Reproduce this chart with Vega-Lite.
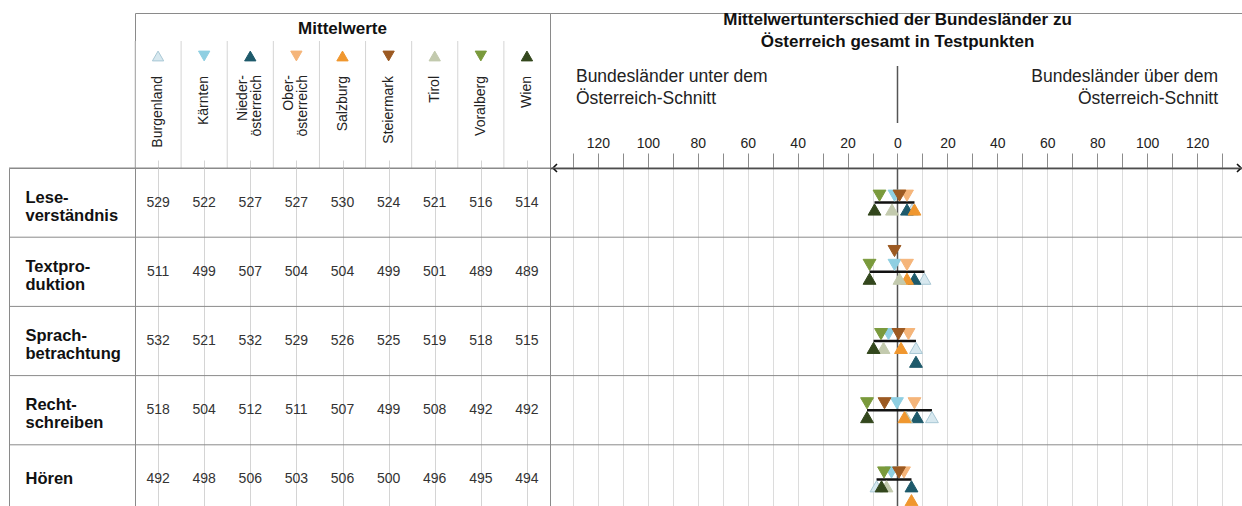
{
  "$schema": "https://vega.github.io/schema/vega-lite/v6.json",
  "padding": {"left": 8, "top": 10, "right": 1, "bottom": 0},
  "spacing": 0,
  "bounds": "flush",
  "columns": 3,
  "config": {
    "font": "Liberation Sans",
    "text": {"font": "Liberation Sans"},
    "axis": {"labelFont": "Liberation Sans"}
  },
  "datasets": {
    "kompetenzen": [
      {"Kompetenz": "Lese-\nverständnis"},
      {"Kompetenz": "Textpro-\nduktion"},
      {"Kompetenz": "Sprach-\nbetrachtung"},
      {"Kompetenz": "Recht-\nschreiben"},
      {"Kompetenz": "Hören"}
    ],
    "laender": [
      {"Bundesland": "Burgenland"},
      {"Bundesland": "Kärnten"},
      {"Bundesland": "Nieder-\nösterreich"},
      {"Bundesland": "Ober-\nösterreich"},
      {"Bundesland": "Salzburg"},
      {"Bundesland": "Steiermark"},
      {"Bundesland": "Tirol"},
      {"Bundesland": "Voralberg"},
      {"Bundesland": "Wien"}
    ],
    "werte": [
      {"Kompetenz": "Lese-\nverständnis", "Bundesland": "Burgenland", "Mittelwert": 529, "Differenz": 5.8, "Ebene": "unten 1"},
      {"Kompetenz": "Lese-\nverständnis", "Bundesland": "Kärnten", "Mittelwert": 522, "Differenz": -1.2, "Ebene": "oben 1"},
      {"Kompetenz": "Lese-\nverständnis", "Bundesland": "Nieder-\nösterreich", "Mittelwert": 527, "Differenz": 3.8, "Ebene": "unten 1"},
      {"Kompetenz": "Lese-\nverständnis", "Bundesland": "Ober-\nösterreich", "Mittelwert": 527, "Differenz": 3.8, "Ebene": "oben 1"},
      {"Kompetenz": "Lese-\nverständnis", "Bundesland": "Salzburg", "Mittelwert": 530, "Differenz": 6.8, "Ebene": "unten 1"},
      {"Kompetenz": "Lese-\nverständnis", "Bundesland": "Steiermark", "Mittelwert": 524, "Differenz": 0.8, "Ebene": "oben 1"},
      {"Kompetenz": "Lese-\nverständnis", "Bundesland": "Tirol", "Mittelwert": 521, "Differenz": -2.2, "Ebene": "unten 1"},
      {"Kompetenz": "Lese-\nverständnis", "Bundesland": "Voralberg", "Mittelwert": 516, "Differenz": -7.2, "Ebene": "oben 1"},
      {"Kompetenz": "Lese-\nverständnis", "Bundesland": "Wien", "Mittelwert": 514, "Differenz": -9.2, "Ebene": "unten 1"},

      {"Kompetenz": "Textpro-\nduktion", "Bundesland": "Burgenland", "Mittelwert": 511, "Differenz": 10.8, "Ebene": "unten 1"},
      {"Kompetenz": "Textpro-\nduktion", "Bundesland": "Kärnten", "Mittelwert": 499, "Differenz": -1.2, "Ebene": "oben 1"},
      {"Kompetenz": "Textpro-\nduktion", "Bundesland": "Nieder-\nösterreich", "Mittelwert": 507, "Differenz": 6.8, "Ebene": "unten 1"},
      {"Kompetenz": "Textpro-\nduktion", "Bundesland": "Ober-\nösterreich", "Mittelwert": 504, "Differenz": 3.8, "Ebene": "oben 1"},
      {"Kompetenz": "Textpro-\nduktion", "Bundesland": "Salzburg", "Mittelwert": 504, "Differenz": 3.8, "Ebene": "unten 1"},
      {"Kompetenz": "Textpro-\nduktion", "Bundesland": "Steiermark", "Mittelwert": 499, "Differenz": -1.2, "Ebene": "oben 2"},
      {"Kompetenz": "Textpro-\nduktion", "Bundesland": "Tirol", "Mittelwert": 501, "Differenz": 0.8, "Ebene": "unten 1"},
      {"Kompetenz": "Textpro-\nduktion", "Bundesland": "Voralberg", "Mittelwert": 489, "Differenz": -11.2, "Ebene": "oben 1"},
      {"Kompetenz": "Textpro-\nduktion", "Bundesland": "Wien", "Mittelwert": 489, "Differenz": -11.2, "Ebene": "unten 1"},

      {"Kompetenz": "Sprach-\nbetrachtung", "Bundesland": "Burgenland", "Mittelwert": 532, "Differenz": 7.4, "Ebene": "unten 1"},
      {"Kompetenz": "Sprach-\nbetrachtung", "Bundesland": "Kärnten", "Mittelwert": 521, "Differenz": -3.6, "Ebene": "oben 1"},
      {"Kompetenz": "Sprach-\nbetrachtung", "Bundesland": "Nieder-\nösterreich", "Mittelwert": 532, "Differenz": 7.4, "Ebene": "unten 2"},
      {"Kompetenz": "Sprach-\nbetrachtung", "Bundesland": "Ober-\nösterreich", "Mittelwert": 529, "Differenz": 4.4, "Ebene": "oben 1"},
      {"Kompetenz": "Sprach-\nbetrachtung", "Bundesland": "Salzburg", "Mittelwert": 526, "Differenz": 1.4, "Ebene": "unten 1"},
      {"Kompetenz": "Sprach-\nbetrachtung", "Bundesland": "Steiermark", "Mittelwert": 525, "Differenz": 0.4, "Ebene": "oben 1"},
      {"Kompetenz": "Sprach-\nbetrachtung", "Bundesland": "Tirol", "Mittelwert": 519, "Differenz": -5.6, "Ebene": "unten 1"},
      {"Kompetenz": "Sprach-\nbetrachtung", "Bundesland": "Voralberg", "Mittelwert": 518, "Differenz": -6.6, "Ebene": "oben 1"},
      {"Kompetenz": "Sprach-\nbetrachtung", "Bundesland": "Wien", "Mittelwert": 515, "Differenz": -9.6, "Ebene": "unten 1"},

      {"Kompetenz": "Recht-\nschreiben", "Bundesland": "Burgenland", "Mittelwert": 518, "Differenz": 13.8, "Ebene": "unten 1"},
      {"Kompetenz": "Recht-\nschreiben", "Bundesland": "Kärnten", "Mittelwert": 504, "Differenz": -0.2, "Ebene": "oben 1"},
      {"Kompetenz": "Recht-\nschreiben", "Bundesland": "Nieder-\nösterreich", "Mittelwert": 512, "Differenz": 7.8, "Ebene": "unten 1"},
      {"Kompetenz": "Recht-\nschreiben", "Bundesland": "Ober-\nösterreich", "Mittelwert": 511, "Differenz": 6.8, "Ebene": "oben 1"},
      {"Kompetenz": "Recht-\nschreiben", "Bundesland": "Tirol", "Mittelwert": 508, "Differenz": 3.4, "Ebene": "unten 1"},
      {"Kompetenz": "Recht-\nschreiben", "Bundesland": "Salzburg", "Mittelwert": 507, "Differenz": 2.8, "Ebene": "unten 1"},
      {"Kompetenz": "Recht-\nschreiben", "Bundesland": "Steiermark", "Mittelwert": 499, "Differenz": -5.2, "Ebene": "oben 1"},
      {"Kompetenz": "Recht-\nschreiben", "Bundesland": "Voralberg", "Mittelwert": 492, "Differenz": -12.2, "Ebene": "oben 1"},
      {"Kompetenz": "Recht-\nschreiben", "Bundesland": "Wien", "Mittelwert": 492, "Differenz": -12.2, "Ebene": "unten 1"},

      {"Kompetenz": "Hören", "Bundesland": "Burgenland", "Mittelwert": 492, "Differenz": -8.4, "Ebene": "unten 1"},
      {"Kompetenz": "Hören", "Bundesland": "Kärnten", "Mittelwert": 498, "Differenz": -2.4, "Ebene": "oben 1"},
      {"Kompetenz": "Hören", "Bundesland": "Nieder-\nösterreich", "Mittelwert": 506, "Differenz": 5.6, "Ebene": "unten 1"},
      {"Kompetenz": "Hören", "Bundesland": "Ober-\nösterreich", "Mittelwert": 503, "Differenz": 2.6, "Ebene": "oben 1"},
      {"Kompetenz": "Hören", "Bundesland": "Salzburg", "Mittelwert": 506, "Differenz": 5.6, "Ebene": "unten 2"},
      {"Kompetenz": "Hören", "Bundesland": "Steiermark", "Mittelwert": 500, "Differenz": 0.6, "Ebene": "oben 1"},
      {"Kompetenz": "Hören", "Bundesland": "Tirol", "Mittelwert": 496, "Differenz": -4.4, "Ebene": "unten 1"},
      {"Kompetenz": "Hören", "Bundesland": "Voralberg", "Mittelwert": 495, "Differenz": -5.4, "Ebene": "oben 1"},
      {"Kompetenz": "Hören", "Bundesland": "Wien", "Mittelwert": 494, "Differenz": -6.4, "Ebene": "unten 1"}
    ]
  },
  "concat": [
    {
      "width": 126,
      "height": 155,
      "view": {"stroke": null},
      "data": {"values": [{"t": ""}]},
      "mark": {"type": "text"},
      "encoding": {"text": {"field": "t"}}
    },
    {
      "width": 415,
      "height": 155,
      "view": {"stroke": "#8a8a8a"},
      "layer": [
        {
          "data": {"values": [{"t": "Mittelwerte"}]},
          "mark": {"type": "text", "fontSize": 17, "fontWeight": "bold", "color": "#111", "baseline": "middle"},
          "encoding": {
            "text": {"field": "t"},
            "y": {"datum": 16, "type": "quantitative", "scale": {"domain": [0, 155], "reverse": true, "nice": false, "zero": false}, "axis": null}
          }
        },
        {
          "data": {"name": "laender"},
          "mark": {"type": "rule", "color": "#d4d4d4", "strokeWidth": 1},
          "encoding": {
            "x": {"field": "Bundesland", "type": "nominal", "bandPosition": 0, "scale": {"domain": ["Burgenland", "Kärnten", "Nieder-\nösterreich", "Ober-\nösterreich", "Salzburg", "Steiermark", "Tirol", "Voralberg", "Wien"], "paddingInner": 0, "paddingOuter": 0}, "axis": null},
            "y": {"datum": 28, "type": "quantitative", "scale": {"domain": [0, 155], "reverse": true, "nice": false, "zero": false}, "axis": null},
            "y2": {"datum": 155}
          }
        },
        {
          "data": {"name": "laender"},
          "mark": {"type": "point", "filled": true, "size": 128, "opacity": 1, "strokeWidth": 1},
          "encoding": {
            "x": {"field": "Bundesland", "type": "nominal", "scale": {"domain": ["Burgenland", "Kärnten", "Nieder-\nösterreich", "Ober-\nösterreich", "Salzburg", "Steiermark", "Tirol", "Voralberg", "Wien"], "paddingInner": 0, "paddingOuter": 0}, "axis": null},
            "y": {"datum": 43, "type": "quantitative", "scale": {"domain": [0, 155], "reverse": true, "nice": false, "zero": false}, "axis": null},
            "shape": {"field": "Bundesland", "type": "nominal", "scale": {"domain": ["Burgenland", "Kärnten", "Nieder-\nösterreich", "Ober-\nösterreich", "Salzburg", "Steiermark", "Tirol", "Voralberg", "Wien"], "range": ["triangle-up", "triangle-down", "triangle-up", "triangle-down", "triangle-up", "triangle-down", "triangle-up", "triangle-down", "triangle-up"]}, "legend": null},
            "fill": {"field": "Bundesland", "type": "nominal", "scale": {"domain": ["Burgenland", "Kärnten", "Nieder-\nösterreich", "Ober-\nösterreich", "Salzburg", "Steiermark", "Tirol", "Voralberg", "Wien"], "range": ["#d7e8ef", "#8fcfe2", "#1e5a6b", "#f5b57a", "#f0972f", "#9c5a22", "#c3caae", "#7a9a3c", "#33471d"]}, "legend": null},
            "stroke": {"field": "Bundesland", "type": "nominal", "scale": {"domain": ["Burgenland", "Kärnten", "Nieder-\nösterreich", "Ober-\nösterreich", "Salzburg", "Steiermark", "Tirol", "Voralberg", "Wien"], "range": ["#a9c8d5", "#8fcfe2", "#1e5a6b", "#f5b57a", "#f0972f", "#9c5a22", "#c3caae", "#7a9a3c", "#33471d"]}, "legend": null}
          }
        },
        {
          "data": {"name": "laender"},
          "transform": [{"filter": "indexof(datum.Bundesland, '\\n') < 0"}],
          "mark": {"type": "text", "angle": 270, "align": "right", "baseline": "middle", "fontSize": 14, "color": "#222"},
          "encoding": {
            "x": {"field": "Bundesland", "type": "nominal", "scale": {"domain": ["Burgenland", "Kärnten", "Nieder-\nösterreich", "Ober-\nösterreich", "Salzburg", "Steiermark", "Tirol", "Voralberg", "Wien"], "paddingInner": 0, "paddingOuter": 0}, "axis": null},
            "y": {"datum": 63, "type": "quantitative", "scale": {"domain": [0, 155], "reverse": true, "nice": false, "zero": false}, "axis": null},
            "text": {"field": "Bundesland"}
          }
        },
        {
          "data": {"name": "laender"},
          "transform": [{"filter": "indexof(datum.Bundesland, '\\n') >= 0"}],
          "mark": {"type": "text", "angle": 270, "align": "right", "baseline": "middle", "fontSize": 14, "lineBreak": "\n", "lineHeight": 14, "dy": -7, "color": "#222"},
          "encoding": {
            "x": {"field": "Bundesland", "type": "nominal", "scale": {"domain": ["Burgenland", "Kärnten", "Nieder-\nösterreich", "Ober-\nösterreich", "Salzburg", "Steiermark", "Tirol", "Voralberg", "Wien"], "paddingInner": 0, "paddingOuter": 0}, "axis": null},
            "y": {"datum": 62, "type": "quantitative", "scale": {"domain": [0, 155], "reverse": true, "nice": false, "zero": false}, "axis": null},
            "text": {"field": "Bundesland"}
          }
        }
      ]
    },
    {
      "width": 692,
      "height": 155,
      "view": {"stroke": "#8a8a8a"},
      "layer": [
        {
          "data": {"values": [{"t": "Mittelwertunterschied der Bundesländer zu\nÖsterreich gesamt in Testpunkten"}]},
          "mark": {"type": "text", "fontSize": 17, "fontWeight": "bold", "lineBreak": "\n", "lineHeight": 22, "baseline": "top", "align": "center", "color": "#111"},
          "encoding": {
            "x": {"datum": 0, "type": "quantitative", "scale": {"domain": [-139.2, 138], "nice": false, "zero": false}, "axis": null},
            "y": {"datum": -1.5, "type": "quantitative", "scale": {"domain": [0, 155], "reverse": true, "nice": false, "zero": false}, "axis": null},
            "text": {"field": "t"}
          }
        },
        {
          "data": {"values": [{"t": "Bundesländer unter dem\nÖsterreich-Schnitt"}]},
          "mark": {"type": "text", "fontSize": 17.5, "lineBreak": "\n", "lineHeight": 22, "baseline": "top", "align": "left", "color": "#222"},
          "encoding": {
            "x": {"datum": -128.8, "type": "quantitative", "scale": {"domain": [-139.2, 138], "nice": false, "zero": false}, "axis": null},
            "y": {"datum": 55.3, "type": "quantitative", "scale": {"domain": [0, 155], "reverse": true, "nice": false, "zero": false}, "axis": null},
            "text": {"field": "t"}
          }
        },
        {
          "data": {"values": [{"t": "Bundesländer über dem\nÖsterreich-Schnitt"}]},
          "mark": {"type": "text", "fontSize": 17.5, "lineBreak": "\n", "lineHeight": 22, "baseline": "top", "align": "right", "color": "#222"},
          "encoding": {
            "x": {"datum": 128.4, "type": "quantitative", "scale": {"domain": [-139.2, 138], "nice": false, "zero": false}, "axis": null},
            "y": {"datum": 55.3, "type": "quantitative", "scale": {"domain": [0, 155], "reverse": true, "nice": false, "zero": false}, "axis": null},
            "text": {"field": "t"}
          }
        },
        {
          "data": {"values": [{}]},
          "mark": {"type": "rule", "color": "#555", "strokeWidth": 1.5},
          "encoding": {
            "x": {"datum": 0, "type": "quantitative", "scale": {"domain": [-139.2, 138], "nice": false, "zero": false}, "axis": null},
            "y": {"datum": 53, "type": "quantitative", "scale": {"domain": [0, 155], "reverse": true, "nice": false, "zero": false}, "axis": null},
            "y2": {"datum": 110}
          }
        },
        {
          "data": {"values": [{}]},
          "mark": {"type": "point", "shape": "M1,-1L0,0L1,1", "filled": false, "stroke": "#111", "strokeWidth": 1.6, "size": 64, "opacity": 1},
          "encoding": {
            "x": {"datum": -138, "type": "quantitative", "scale": {"domain": [-139.2, 138], "nice": false, "zero": false}, "axis": null},
            "y": {"datum": 155, "type": "quantitative", "scale": {"domain": [0, 155], "reverse": true, "nice": false, "zero": false}, "axis": null}
          }
        },
        {
          "data": {"values": [{}]},
          "mark": {"type": "point", "shape": "M-1,-1L0,0L-1,1", "filled": false, "stroke": "#111", "strokeWidth": 1.6, "size": 64, "opacity": 1},
          "encoding": {
            "x": {"datum": 137.6, "type": "quantitative", "scale": {"domain": [-139.2, 138], "nice": false, "zero": false}, "axis": null},
            "y": {"datum": 155, "type": "quantitative", "scale": {"domain": [0, 155], "reverse": true, "nice": false, "zero": false}, "axis": null}
          }
        }
      ]
    },
    {
      "width": 126,
      "height": 338,
      "view": {"stroke": "#8a8a8a"},
      "data": {"name": "kompetenzen"},
      "mark": {"type": "rule", "color": "#8a8a8a", "strokeWidth": 1},
      "encoding": {
        "y": {"field": "Kompetenz", "type": "nominal", "bandPosition": 0, "scale": {"domain": ["Lese-\nverständnis", "Textpro-\nduktion", "Sprach-\nbetrachtung", "Recht-\nschreiben", "Hören"], "range": [0, 346]}, "axis": null}
      }
    },
    {
      "width": 415,
      "height": 338,
      "view": {"stroke": "#8a8a8a"},
      "layer": [
        {
          "data": {"name": "werte"},
          "mark": {"type": "text", "fontSize": 14, "color": "#333", "baseline": "middle"},
          "encoding": {
            "x": {"field": "Bundesland", "type": "nominal", "scale": {"domain": ["Burgenland", "Kärnten", "Nieder-\nösterreich", "Ober-\nösterreich", "Salzburg", "Steiermark", "Tirol", "Voralberg", "Wien"], "paddingInner": 0, "paddingOuter": 0}, "axis": {"grid": true, "bandPosition": 0, "gridColor": "#d4d4d4", "gridWidth": 1, "labels": false, "ticks": false, "domain": false, "title": null}},
            "y": {"field": "Kompetenz", "type": "nominal", "scale": {"domain": ["Lese-\nverständnis", "Textpro-\nduktion", "Sprach-\nbetrachtung", "Recht-\nschreiben", "Hören"], "range": [0, 346]}, "axis": {"orient": "left", "title": null, "ticks": false, "tickSize": 0, "domain": false, "grid": false, "labelAlign": "left", "labelBaseline": "middle", "labelPadding": 110, "labelFontSize": 16.5, "labelFontWeight": "bold", "labelColor": "#111", "labelLineHeight": 18, "labelOffset": {"condition": {"test": "indexof(datum.label, '\\n') >= 0", "value": -5}, "value": 0}, "labelExpr": "split(datum.label, '\\n')"}},
            "text": {"field": "Mittelwert", "type": "quantitative"}
          }
        },
        {
          "data": {"name": "kompetenzen"},
          "mark": {"type": "rule", "color": "#8a8a8a", "strokeWidth": 1},
          "encoding": {
            "y": {"field": "Kompetenz", "type": "nominal", "bandPosition": 0, "scale": {"domain": ["Lese-\nverständnis", "Textpro-\nduktion", "Sprach-\nbetrachtung", "Recht-\nschreiben", "Hören"], "range": [0, 346]}, "axis": {"orient": "left", "title": null, "ticks": false, "tickSize": 0, "domain": false, "grid": false, "labelAlign": "left", "labelBaseline": "middle", "labelPadding": 110, "labelFontSize": 16.5, "labelFontWeight": "bold", "labelColor": "#111", "labelLineHeight": 18, "labelOffset": {"condition": {"test": "indexof(datum.label, '\\n') >= 0", "value": -5}, "value": 0}, "labelExpr": "split(datum.label, '\\n')"}}
          }
        }
      ]
    },
    {
      "width": 692,
      "height": 338,
      "view": {"stroke": null},
      "layer": [
        {
          "data": {"name": "kompetenzen"},
          "mark": {"type": "rule", "color": "#8a8a8a", "strokeWidth": 1},
          "encoding": {
            "y": {"field": "Kompetenz", "type": "nominal", "bandPosition": 0, "scale": {"domain": ["Lese-\nverständnis", "Textpro-\nduktion", "Sprach-\nbetrachtung", "Recht-\nschreiben", "Hören"], "range": [0, 346]}, "axis": null}
          }
        },
        {
          "data": {"values": [{}]},
          "mark": {"type": "rule", "color": "#555", "strokeWidth": 1.5},
          "encoding": {
            "x": {"datum": 0, "type": "quantitative", "scale": {"domain": [-139.2, 138], "nice": false, "zero": false}, "axis": {"orient": "top", "values": [-130, -120, -110, -100, -90, -80, -70, -60, -50, -40, -30, -20, -10, 0, 10, 20, 30, 40, 50, 60, 70, 80, 90, 100, 110, 120, 130], "labelExpr": "datum.value % 20 === 0 ? format(abs(datum.value), 'd') : ''", "grid": true, "gridColor": "#dcdcdc", "gridWidth": 1, "tickSize": 15, "tickColor": "#8c8c8c", "tickWidth": 1, "domainColor": "#111", "domainWidth": 1.6, "labelPadding": 3, "labelFontSize": 14, "labelColor": "#222", "labelOverlap": false, "labelFlush": false, "labelBound": false, "title": null}}
          }
        },
        {
          "data": {"name": "werte"},
          "mark": {"type": "rule", "color": "#111", "strokeWidth": 2.5},
          "encoding": {
            "x": {"aggregate": "min", "field": "Differenz", "type": "quantitative", "scale": {"domain": [-139.2, 138], "nice": false, "zero": false}, "axis": {"orient": "top", "values": [-130, -120, -110, -100, -90, -80, -70, -60, -50, -40, -30, -20, -10, 0, 10, 20, 30, 40, 50, 60, 70, 80, 90, 100, 110, 120, 130], "labelExpr": "datum.value % 20 === 0 ? format(abs(datum.value), 'd') : ''", "grid": true, "gridColor": "#dcdcdc", "gridWidth": 1, "tickSize": 15, "tickColor": "#8c8c8c", "tickWidth": 1, "domainColor": "#111", "domainWidth": 1.6, "labelPadding": 3, "labelFontSize": 14, "labelColor": "#222", "labelOverlap": false, "labelFlush": false, "labelBound": false, "title": null}},
            "x2": {"aggregate": "max", "field": "Differenz"},
            "y": {"field": "Kompetenz", "type": "nominal", "scale": {"domain": ["Lese-\nverständnis", "Textpro-\nduktion", "Sprach-\nbetrachtung", "Recht-\nschreiben", "Hören"], "range": [0, 346]}, "axis": null}
          }
        },
        {
          "data": {"name": "werte"},
          "mark": {"type": "point", "filled": true, "size": 165, "opacity": 1, "strokeWidth": 1},
          "encoding": {
            "x": {"field": "Differenz", "type": "quantitative", "scale": {"domain": [-139.2, 138], "nice": false, "zero": false}, "axis": {"orient": "top", "values": [-130, -120, -110, -100, -90, -80, -70, -60, -50, -40, -30, -20, -10, 0, 10, 20, 30, 40, 50, 60, 70, 80, 90, 100, 110, 120, 130], "labelExpr": "datum.value % 20 === 0 ? format(abs(datum.value), 'd') : ''", "grid": true, "gridColor": "#dcdcdc", "gridWidth": 1, "tickSize": 15, "tickColor": "#8c8c8c", "tickWidth": 1, "domainColor": "#111", "domainWidth": 1.6, "labelPadding": 3, "labelFontSize": 14, "labelColor": "#222", "labelOverlap": false, "labelFlush": false, "labelBound": false, "title": null}},
            "y": {"field": "Kompetenz", "type": "nominal", "scale": {"domain": ["Lese-\nverständnis", "Textpro-\nduktion", "Sprach-\nbetrachtung", "Recht-\nschreiben", "Hören"], "range": [0, 346]}, "axis": null},
            "yOffset": {"field": "Ebene", "type": "nominal", "scale": {"type": "point", "domain": ["oben 2", "oben 1", "unten 1", "unten 2"], "padding": 1.16}},
            "shape": {"field": "Bundesland", "type": "nominal", "scale": {"domain": ["Burgenland", "Kärnten", "Nieder-\nösterreich", "Ober-\nösterreich", "Salzburg", "Steiermark", "Tirol", "Voralberg", "Wien"], "range": ["triangle-up", "triangle-down", "triangle-up", "triangle-down", "triangle-up", "triangle-down", "triangle-up", "triangle-down", "triangle-up"]}, "legend": null},
            "fill": {"field": "Bundesland", "type": "nominal", "scale": {"domain": ["Burgenland", "Kärnten", "Nieder-\nösterreich", "Ober-\nösterreich", "Salzburg", "Steiermark", "Tirol", "Voralberg", "Wien"], "range": ["#d7e8ef", "#8fcfe2", "#1e5a6b", "#f5b57a", "#f0972f", "#9c5a22", "#c3caae", "#7a9a3c", "#33471d"]}, "legend": null},
            "stroke": {"field": "Bundesland", "type": "nominal", "scale": {"domain": ["Burgenland", "Kärnten", "Nieder-\nösterreich", "Ober-\nösterreich", "Salzburg", "Steiermark", "Tirol", "Voralberg", "Wien"], "range": ["#a9c8d5", "#8fcfe2", "#1e5a6b", "#f5b57a", "#f0972f", "#9c5a22", "#c3caae", "#7a9a3c", "#33471d"]}, "legend": null}
          }
        }
      ]
    }
  ]
}
